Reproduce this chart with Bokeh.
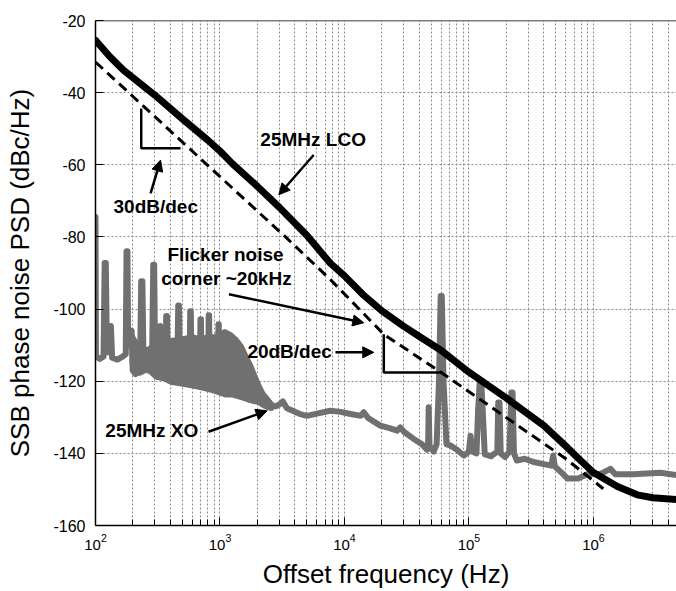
from bokeh.plotting import figure
from bokeh.models import Range1d, FixedTicker, Arrow, NormalHead, Span, ColumnDataSource
from bokeh.core.properties import value
from bokeh.embed import file_html
from bokeh.resources import INLINE

# ---------------- data ----------------
# 25 MHz LCO phase noise (black, thick)
lco_freq = [100, 130, 168, 300, 500, 800, 1000, 1250, 2000, 3000, 5000, 7700, 10000,
            14000, 20000, 30000, 40000, 60000, 100000, 200000, 400000, 600000, 800000,
            1000000, 1560000, 2250000, 3000000, 4650000]
lco_db = [-25.5, -30.0, -33.8, -40.7, -47.3, -53.2, -56.2, -59.6, -66.0, -71.8, -79.6,
          -87.3, -90.8, -95.9, -100.5, -104.8, -107.6, -111.5, -117.5, -124.7, -132.3,
          -138.0, -142.2, -145.3, -149.2, -151.5, -152.3, -152.8]

# asymptote (dashed, 30 dB/dec then 20 dB/dec)
dash_freq = [100, 1000, 3360, 7700, 20700, 60000, 600000, 1200000]
dash_db = [-31.5, -63.3, -80.0, -91.8, -107.0, -117.6, -141.5, -149.8]

# 25 MHz XO phase noise (grey)
xo_freq = [100, 100.8, 108, 116, 118.5, 121, 123.5, 126, 133, 136, 150, 165, 175, 177.5,
           180.5, 183, 187, 195, 199, 210, 228, 233, 238, 243, 265, 285, 291, 296, 301,
           318, 332, 345, 365, 370, 375, 380, 455, 462, 468, 475, 570, 577, 583, 590,
           690, 697, 703, 710, 805, 812, 818, 825, 965, 972, 978, 985, 1100, 1300, 1600,
           1900, 2200, 2500, 2800, 3050, 3200, 3450, 4400, 5000, 6000, 7700, 9300,
           11200, 13500, 14300, 15500, 19400, 23000, 26500, 28100, 30000, 36000, 42000,
           46000, 47000, 47500, 48200, 52000, 55000, 57500, 59300, 60500, 62500, 66000,
           71000, 80000, 91000, 100000, 103000, 106000, 115000, 118500, 122000, 125500,
           129000, 134000, 150000, 169000, 172000, 176000, 180000, 195000, 212000,
           219000, 224000, 230000, 243000, 280000, 330000, 400000, 460000, 475000,
           490000, 560000, 620000, 750000, 900000, 1140000, 1370000, 1500000, 2100000,
           3450000, 4650000]
xo_db = [-74.5, -113.0, -113.8, -113.2, -87.2, -87.2, -112.0, -105.0, -104.7, -113.5,
         -114.0, -113.2, -112.5, -84.0, -84.0, -110.0, -106.0, -106.0, -117.0, -118.0,
         -115.0, -92.3, -92.3, -114.0, -117.0, -113.0, -87.7, -87.7, -112.0, -105.0,
         -104.7, -114.0, -114.0, -101.9, -101.9, -114.0, -114.0, -99.0, -99.0, -114.0,
         -115.0, -100.6, -100.6, -115.0, -116.0, -102.8, -102.8, -116.0, -117.0, -101.7,
         -101.7, -117.0, -118.0, -104.2, -104.2, -118.0, -115.0, -116.5, -119.0, -122.0,
         -124.5, -126.5, -127.0, -126.3, -125.6, -127.5, -129.1, -129.6, -129.0, -128.2,
         -128.5, -129.1, -129.6, -128.6, -130.2, -132.3, -133.0, -133.7, -132.8, -134.0,
         -136.0, -137.5, -139.0, -138.0, -127.2, -138.0, -139.5, -137.5, -120.0, -96.4,
         -96.4, -120.0, -137.5, -137.8, -139.0, -140.6, -139.5, -135.1, -139.5, -140.0,
         -128.0, -120.3, -120.3, -128.0, -140.3, -140.8, -139.5, -125.9, -125.9, -140.0,
         -141.0, -139.5, -123.1, -123.1, -140.0, -142.0, -141.5, -142.4, -143.0, -143.4,
         -140.6, -143.6, -145.5, -147.0, -147.0, -145.7, -145.7, -144.3, -145.8, -145.8,
         -145.4, -146.0]

# noisy band of the XO trace (upper / lower envelope)
band_freq = [188, 200, 230, 260, 300, 350, 400, 500, 600, 700, 800, 900, 1000, 1100,
             1250, 1400, 1550, 1700, 1850, 2000, 2150, 2300, 2500, 2700]
band_hi = [-112.5, -106.5, -110.0, -110.5, -109.0, -107.5, -108.0, -107.5, -107.0,
           -107.5, -107.0, -107.0, -106.0, -105.5, -106.5, -108.0, -110.0, -113.0,
           -115.5, -118.5, -121.0, -123.0, -124.5, -126.0]
band_lo = [-115.0, -118.5, -118.5, -117.5, -119.5, -120.0, -121.0, -121.5, -122.0,
           -122.5, -123.0, -123.5, -124.0, -124.5, -124.5, -125.0, -125.5, -126.0,
           -126.3, -126.5, -127.2, -127.8, -128.2, -128.2]

# slope triangles
tri30_freq = [233, 233, 482]
tri30_db = [-44.4, -55.4, -55.4]
tri20_freq = [20700, 20700, 60000]
tri20_db = [-107.0, -117.6, -117.6]

x_major = [1e2, 1e3, 1e4, 1e5, 1e6]
x_minor = [m * 10 ** e for e in range(2, 7) for m in range(2, 10)]
y_major = [-160, -140, -120, -100, -80, -60, -40, -20]

# ---------------- figure ----------------
FONT = "Liberation Sans"
p = figure(width=676, height=591, x_axis_type="log",
           x_range=Range1d(100, 4.65e6), y_range=Range1d(-160, -20),
           output_backend="svg", toolbar_location=None,
           min_border_left=95, min_border_right=0, min_border_top=20,
           min_border_bottom=64)
p.outline_line_color = None
p.background_fill_color = "white"
p.border_fill_color = "white"

xt = FixedTicker(ticks=x_major, minor_ticks=x_minor)
yt = FixedTicker(ticks=y_major, minor_ticks=[])
p.xaxis.ticker = xt
p.yaxis.ticker = yt
p.xgrid.ticker = xt
p.ygrid.ticker = yt

for g in (p.xgrid, p.ygrid):
    g.grid_line_color = "#8a8a8a"
    g.grid_line_dash = "2 2"
    g.grid_line_width = 1
p.xgrid.minor_grid_line_color = "#8a8a8a"
p.xgrid.minor_grid_line_dash = "2 2"
p.xgrid.minor_grid_line_width = 1

for ax in (p.xaxis, p.yaxis):
    ax.axis_line_color = "black"
    ax.axis_line_width = 1.5
    ax.major_tick_line_color = "black"
    ax.major_tick_in = 8
    ax.major_tick_out = 0
    ax.minor_tick_line_color = "black"
    ax.minor_tick_in = 6
    ax.minor_tick_out = 0
    ax.major_label_text_font = FONT
    ax.major_label_text_color = "black"
    ax.axis_label_text_font = FONT
    ax.axis_label_text_font_size = "26px"
    ax.axis_label_text_font_style = "normal"
    ax.axis_label_text_color = "black"
p.xaxis.major_label_text_font_size = "15px"
p.yaxis.major_label_text_font_size = "16px"
p.yaxis.major_label_overrides = {v: str(v) for v in y_major}
p.yaxis.minor_tick_line_color = None
p.xaxis.axis_label = "Offset frequency (Hz)"
p.yaxis.axis_label = "SSB phase noise PSD (dBc/Hz)"
p.xaxis.major_label_standoff = 8
p.yaxis.major_label_standoff = 10
p.xaxis.axis_label_standoff = 6
p.yaxis.axis_label_standoff = 15

p.add_layout(Span(location=-20, dimension="width", line_color="black", line_width=1.5))

# XO trace
GREY = "#707070"
p.varea(x=band_freq, y1=band_lo, y2=band_hi, fill_color=GREY)
p.line(xo_freq, xo_db, line_color=GREY, line_width=6, line_join="round", line_cap="round")

# asymptote
p.line(dash_freq, dash_db, line_color="black", line_width=3, line_dash="10 6")

# LCO trace
p.line(lco_freq, lco_db, line_color="black", line_width=7, line_join="round", line_cap="round")

# slope triangles
p.line(tri30_freq, tri30_db, line_color="black", line_width=2.5)
p.line(tri20_freq, tri20_db, line_color="black", line_width=2.5)

# annotation texts
ann = ColumnDataSource(dict(
    x=[2110, 139.5, 1107, 1127, 1660, 120],
    y=[-52.9, -71.6, -85.0, -91.4, -111.9, -133.8],
    text=["25MHz LCO", "30dB/dec", "Flicker noise", "corner ~20kHz", "20dB/dec", "25MHz XO"],
    align=["left", "left", "center", "center", "left", "left"],
))
p.text(x="x", y="y", text="text", source=ann, text_align="align",
       text_baseline="middle", text_font=value(FONT), text_font_style="bold",
       text_font_size="19px", text_color="black")

# arrows (start -> end, in data units)
arrows = [
    (5660, -57.3, 2970, -68.3),     # 25MHz LCO
    (277, -67.9, 333, -58.7),       # 30dB/dec
    (1180, -95.9, 14300, -103.8),   # flicker corner
    (8470, -112.0, 17200, -112.0),  # 20dB/dec
    (809, -134.0, 2390, -128.2),    # 25MHz XO
]
for xs, ys, xe, ye in arrows:
    p.add_layout(Arrow(end=NormalHead(size=11, fill_color="black", line_color="black", line_width=1),
                       x_start=xs, y_start=ys, x_end=xe, y_end=ye,
                       line_color="black", line_width=2.5))

open("out.html", "w").write(file_html(p, INLINE))
